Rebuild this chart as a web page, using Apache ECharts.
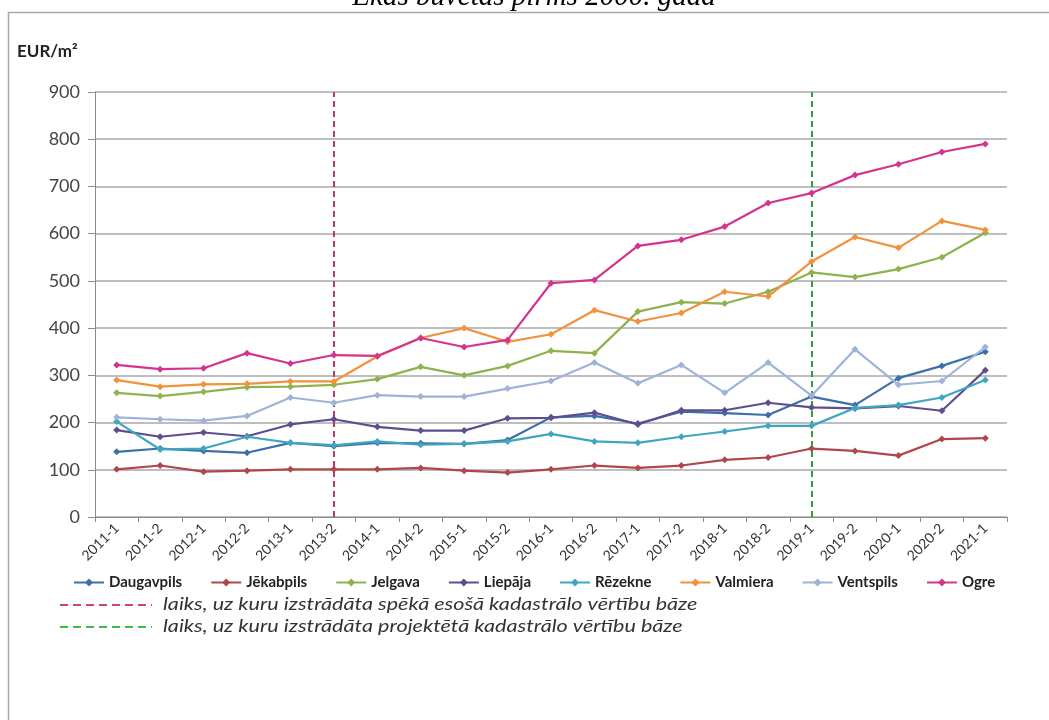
<!DOCTYPE html>
<html><head><meta charset="utf-8">
<script src="https://cdn.jsdelivr.net/npm/echarts@6/dist/echarts.min.js"></script>
<style>html,body{margin:0;padding:0;background:#fff}#c{width:1049px;height:720px}</style>
</head><body><div id="c"></div>
<script>
const categories = ['2011-1','2011-2','2012-1','2012-2','2013-1','2013-2','2014-1','2014-2','2015-1','2015-2','2016-1','2016-2','2017-1','2017-2','2018-1','2018-2','2019-1','2019-2','2020-1','2020-2','2021-1'];
const daugavpils = [138,145,140,136,157,150,157,156,155,163,211,214,198,223,220,216,255,237,294,320,350];
const jekabpils  = [101,109,96,98,101,101,101,104,98,94,101,109,104,109,121,126,145,140,130,165,167];
const jelgava    = [263,256,265,275,276,280,292,318,300,320,352,347,435,455,452,477,518,508,525,550,602];
const liepaja    = [184,170,179,171,196,207,191,183,183,209,210,221,196,226,226,242,232,230,235,225,311];
const rezekne    = [202,143,145,170,157,152,160,153,155,160,176,160,157,170,181,193,193,231,237,253,290];
const valmiera   = [290,276,281,282,287,287,340,379,400,371,387,438,414,432,477,467,541,593,570,627,608];
const ventspils  = [211,207,204,214,253,242,258,255,255,272,288,327,283,322,263,327,257,355,280,288,360];
const ogre       = [322,313,315,347,325,343,341,379,360,375,495,502,574,587,615,665,686,724,747,773,790];
const seriesNames = ['Daugavpils','Jēkabpils','Jelgava','Liepāja','Rēzekne','Valmiera','Ventspils','Ogre'];
const seriesData = [daugavpils,jekabpils,jelgava,liepaja,rezekne,valmiera,ventspils,ogre];
const colors = ['#3d6fa8','#b0474b','#8db34e','#5d4f8e','#3fa6c0','#f0923e','#9db3d8','#d4348e'];
const markerCurrent = '2013-2';
const markerProjected = '2019-1';
const titleText = 'Ēkas būvētas pirms 2000. gadā';
const note1 = 'laiks, uz kuru izstrādāta spēkā esošā kadastrālo vērtību bāze';
const note2 = 'laiks, uz kuru izstrādāta projektētā kadastrālo vērtību bāze';

const chart = echarts.init(document.getElementById('c'));
const series = seriesNames.map((n,i)=>({
  name:n, type:'line', data:seriesData[i], symbol:'diamond', symbolSize:7,
  itemStyle:{color:colors[i]}, lineStyle:{width:2.2, color:colors[i]}, z: 3+i,
  animation:false
}));
series[0].markLine = {
  silent:true, symbol:'none', animation:false, label:{show:false},
  data:[
    {xAxis:markerCurrent, lineStyle:{color:'#b83a66', type:[6,4], width:2}},
    {xAxis:markerProjected, lineStyle:{color:'#2e9e3e', type:[6,4], width:2}}
  ]
};
chart.setOption({
  animation:false,
  backgroundColor:'#fff',
  grid:{left:95, right:42, top:92, bottom:203},
  legend:{
    data:seriesNames, left:68, top:570, itemWidth:30, itemHeight:10, itemGap:28,
    textStyle:{fontFamily:'Lato', fontWeight:'bold', fontSize:15, color:'#222'}
  },
  xAxis:{
    type:'category', data:categories, boundaryGap:true,
    axisLine:{lineStyle:{color:'#8c8c8c'}},
    axisTick:{show:true, alignWithLabel:false, length:5, lineStyle:{color:'#8c8c8c'}},
    axisLabel:{rotate:45, fontFamily:'Lato', fontSize:14, color:'#333', interval:0, margin:9}
  },
  yAxis:{
    type:'value', min:0, max:900, interval:100,
    axisLine:{show:true, lineStyle:{color:'#8c8c8c'}},
    axisTick:{show:true, length:7, lineStyle:{color:'#8c8c8c'}},
    axisLabel:{fontFamily:'Lato', fontSize:18, color:'#444', margin:15},
    splitLine:{lineStyle:{color:'#a8a8a8', width:1.5}}
  },
  graphic:[
    {type:'rect', shape:{x:8.5, y:12.5, width:1100, height:800}, style:{fill:'none', stroke:'#a8a8a8', lineWidth:1.5}, silent:true},
    {type:'text', x:534, y:12, style:{text:titleText, font:'italic 29px "Liberation Serif"', fill:'#000', align:'center', verticalAlign:'bottom'}},
    {type:'text', x:17, y:52, style:{text:'EUR/m²', font:'bold 17px Lato', fill:'#222', verticalAlign:'middle'}},
    {type:'line', shape:{x1:60, y1:605, x2:152, y2:605}, style:{stroke:'#d0446e', lineWidth:2, lineDash:[8,5]}},
    {type:'line', shape:{x1:60, y1:627, x2:152, y2:627}, style:{stroke:'#44bb44', lineWidth:2, lineDash:[8,5]}},
    {type:'text', x:163, y:605, scaleX:1.27, style:{text:note1, font:'italic 17px Lato', fill:'#333', verticalAlign:'middle'}},
    {type:'text', x:163, y:627, scaleX:1.27, style:{text:note2, font:'italic 17px Lato', fill:'#333', verticalAlign:'middle'}}
  ],
  series:series
});
</script></body></html>
